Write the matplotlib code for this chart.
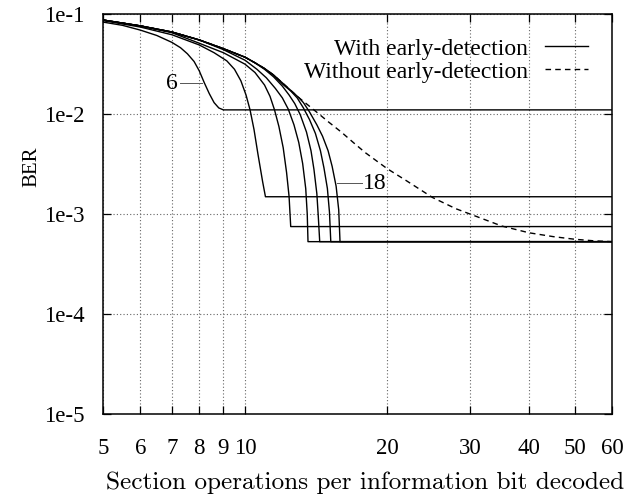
import matplotlib
matplotlib.use("Agg")
import matplotlib.pyplot as plt

plt.rcParams['font.family'] = ['Liberation Serif', 'DejaVu Serif']

# ---- data ----
x_ticks = [5, 6, 7, 8, 9, 10, 20, 30, 40, 50, 60]
x_tick_labels = ["5", "6", "7", "8", "9", "10", "20", "30", "40", "50", "60"]
y_ticks = [1e-5, 1e-4, 1e-3, 1e-2, 1e-1]
y_tick_labels = ["1e-5", "1e-4", "1e-3", "1e-2", "1e-1"]

# Without early-detection (dashed)
x_nd = [5, 6, 7, 8, 9, 10, 10.5, 11, 11.5, 12, 13, 14, 15, 16, 17, 18, 20, 22, 25, 28, 30,
        35, 40, 45, 50, 55, 60]
y_nd = [8.7e-2, 7.6e-2, 6.6e-2, 5.5e-2, 4.5e-2, 3.7e-2, 3.25e-2, 2.85e-2, 2.45e-2, 2.05e-2,
        1.46e-2, 1.1e-2, 8.4e-3, 6.6e-3, 5.15e-3, 4.1e-3, 2.85e-3, 2.15e-3, 1.46e-3,
        1.13e-3, 1.0e-3, 7.6e-4, 6.5e-4, 5.95e-4, 5.6e-4, 5.4e-4, 5.3e-4]

# With early-detection, one curve per parameter value 6..18
x_ed6 = [5, 5.5, 6, 6.5, 7, 7.3, 7.55, 7.8, 8.0, 8.2, 8.4, 8.6, 8.8, 9.0, 60]
y_ed6 = [8.3e-2, 7.7e-2, 6.9e-2, 6.1e-2, 5.2e-2, 4.6e-2, 4.0e-2, 3.35e-2, 2.7e-2, 2.05e-2,
         1.6e-2, 1.3e-2, 1.15e-2, 1.1e-2, 1.1e-2]

x_ed8 = [5, 6, 7, 8, 8.6, 9.15, 9.5, 9.8, 10.05, 10.25, 10.45, 10.65, 10.9, 11.05, 60]
y_ed8 = [8.6e-2, 7.4e-2, 6.2e-2, 4.9e-2, 4.1e-2, 3.4e-2, 2.8e-2, 2.15e-2, 1.55e-2, 1.1e-2,
         7.0e-3, 4.0e-3, 2.1e-3, 1.49e-3, 1.49e-3]

x_ed10 = [5, 6, 7, 8, 9, 10, 10.5, 11.0, 11.3, 11.55, 11.8, 12.05, 12.25, 12.4, 12.5, 60]
y_ed10 = [8.7e-2, 7.6e-2, 6.5e-2, 5.1e-2, 4.1e-2, 3.15e-2, 2.6e-2, 1.95e-2, 1.5e-2, 1.1e-2,
          7.5e-3, 4.6e-3, 2.6e-3, 1.5e-3, 7.5e-4, 7.5e-4]

x_ed12 = [5, 6, 7, 8, 9, 10, 10.6, 11.1, 11.6, 12.0, 12.35, 12.7, 13.0, 13.25, 13.45, 13.55,
          13.6, 60]
y_ed12 = [8.7e-2, 7.6e-2, 6.6e-2, 5.5e-2, 4.4e-2, 3.45e-2, 2.8e-2, 2.3e-2, 1.8e-2, 1.45e-2,
          1.12e-2, 7.8e-3, 5.2e-3, 3.2e-3, 1.8e-3, 1.0e-3, 5.3e-4, 5.3e-4]

x_ed14 = [5, 6, 7, 8, 9, 10, 10.5, 11.0, 11.5, 12.0, 12.4, 12.75, 13.1, 13.5, 13.8, 14.0,
          14.2, 14.3, 14.4, 60]
y_ed14 = [8.7e-2, 7.6e-2, 6.6e-2, 5.5e-2, 4.5e-2, 3.7e-2, 3.25e-2, 2.8e-2, 2.35e-2, 1.9e-2,
          1.55e-2, 1.27e-2, 9.8e-3, 6.6e-3, 4.3e-3, 2.8e-3, 1.6e-3, 9.5e-4, 5.3e-4, 5.3e-4]

x_ed16 = [5, 6, 7, 8, 9, 10, 10.5, 11, 11.5, 12.0, 12.5, 12.9, 13.3, 13.7, 14.1, 14.45,
          14.7, 14.95, 15.1, 15.2, 60]
y_ed16 = [8.7e-2, 7.6e-2, 6.6e-2, 5.5e-2, 4.5e-2, 3.7e-2, 3.25e-2, 2.85e-2, 2.45e-2, 2.0e-2,
          1.7e-2, 1.45e-2, 1.15e-2, 8.8e-3, 6.4e-3, 4.3e-3, 2.9e-3, 1.8e-3, 1.05e-3,
          5.3e-4, 5.3e-4]

x_ed18 = [5, 6, 7, 8, 9, 10, 10.5, 11, 11.5, 12, 13.0, 13.3, 13.7, 14.2, 14.6, 15.0, 15.3,
          15.6, 15.8, 15.9, 60]
y_ed18 = [8.7e-2, 7.6e-2, 6.6e-2, 5.5e-2, 4.5e-2, 3.7e-2, 3.25e-2, 2.85e-2, 2.45e-2,
          2.05e-2, 1.46e-2, 1.3e-2, 1.05e-2, 7.8e-3, 6.0e-3, 4.3e-3, 3.0e-3, 1.9e-3,
          1.1e-3, 5.3e-4, 5.3e-4]

ed_curves = [(x_ed6, y_ed6), (x_ed8, y_ed8), (x_ed10, y_ed10), (x_ed12, y_ed12),
             (x_ed14, y_ed14), (x_ed16, y_ed16), (x_ed18, y_ed18)]

# ---- figure ----
fig = plt.figure(figsize=(6.24, 4.99), dpi=100)
ax = fig.add_axes([0.165, 0.170, 0.816, 0.802])
ax.set_xscale('log')
ax.set_yscale('log')
ax.set_xlim(5, 60)
ax.set_ylim(1e-5, 1e-1)

lw = 1.0
for i, (xs, ys) in enumerate(ed_curves):
    ax.plot(xs, ys, color='black', lw=lw, solid_joinstyle='round',
            label='With early-detection' if i == 0 else None, zorder=3)
ax.plot(x_nd, y_nd, color='black', lw=lw, linestyle=(0, (4, 3)),
        label='Without early-detection', zorder=3)

# annotations "6" and "18"
ax.plot([7.28, 8.1], [2.02e-2, 2.02e-2], color='#555555', lw=0.7, zorder=2)
ax.text(7.2, 2.02e-2, "6", ha='right', va='center', fontsize=17)
ax.plot([15.7, 17.7], [2.04e-3, 2.04e-3], color='#555555', lw=0.7, zorder=2)
ax.text(17.8, 2.04e-3, "18", ha='left', va='center', fontsize=17)

ax.set_xticks(x_ticks)
ax.set_xticklabels(x_tick_labels)
ax.set_yticks(y_ticks)
ax.set_yticklabels(y_tick_labels)
ax.xaxis.set_minor_locator(matplotlib.ticker.NullLocator())
ax.yaxis.set_minor_locator(matplotlib.ticker.NullLocator())
ax.tick_params(axis='both', which='major', direction='in', length=6, width=0.9,
               top=True, right=True, labelsize=16.5)
ax.tick_params(axis='x', pad=17)
ax.tick_params(axis='y', pad=13)

ax.grid(True, which='major', color='#666666', linestyle=(0, (1, 2)), lw=0.8)
for s in ax.spines.values():
    s.set_linewidth(1.1)

ax.set_xlabel("Section operations per information bit decoded", fontsize=18.2,
              fontfamily='cmr10')
ax.xaxis.label.set_va('center')
ax.xaxis.set_label_coords(0.515, -0.1725)
ax.set_ylabel("BER", fontsize=15)
ax.yaxis.label.set_va('center')
ax.yaxis.set_label_coords(-0.139, 0.6175)

leg = ax.legend(loc='upper right', frameon=False, markerfirst=False, fontsize=17,
                handlelength=1.82, handletextpad=0.72, labelspacing=0.07,
                borderaxespad=0.62)

fig.savefig("out.png", dpi=100)
